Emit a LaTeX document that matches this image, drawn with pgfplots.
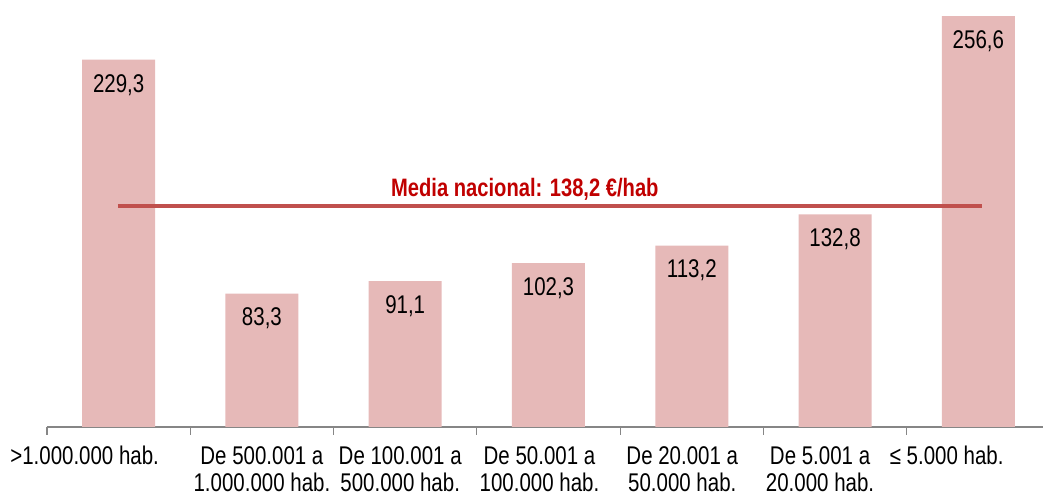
\documentclass[border=0pt]{standalone}
\usepackage{fontspec}
\setmainfont{Liberation Sans}[FakeStretch=0.8]
\usepackage{pgfplots}
\usepackage{pgfplotstable}
\pgfplotsset{compat=1.18}
\definecolor{barpink}{RGB}{230,185,184}
\definecolor{meanred}{RGB}{192,80,77}
\definecolor{labred}{RGB}{192,0,0}
\definecolor{axgray}{RGB}{134,134,134}
\pgfplotstableread{
x y label
0 229.3 229,3
1 83.3 83,3
2 91.1 91,1
3 102.3 102,3
4 113.2 113,2
5 132.8 132,8
6 256.6 256,6
}\datatable
\begin{document}
\fontsize{12.8}{13.5}\selectfont
\begin{tikzpicture}
\begin{axis}[
  scale only axis,
  width=501.5pt, height=213.5pt,
  xmin=-0.5, xmax=6.5, ymin=0, ymax=266.6,
  axis x line*=bottom, axis y line=none,
  axis line style={axgray, line width=0.6pt},
  xtick={0,...,6},
  major tick length=0pt,
  minor xtick={-0.5,0.5,...,5.5},
  minor tick length=4pt,
  tick align=outside,
  minor tick style={axgray, line width=0.6pt},
  xticklabels={
    {>1.000.000 hab.\hspace*{34pt}},
    {De 500.001 a\\1.000.000 hab.},
    {De 100.001 a\hspace*{5pt}\\500.000 hab.\hspace*{5pt}},
    {De 50.001 a\hspace*{9pt}\\100.000 hab.\hspace*{9pt}},
    {De 20.001 a\hspace*{9.5pt}\\50.000 hab.\hspace*{9.5pt}},
    {De 5.001 a\hspace*{15pt}\\20.000 hab.\hspace*{15pt}},
    {≤ 5.000 hab.\hspace*{31.7pt}}},
  xticklabel style={anchor=north, align=center, inner sep=0pt, yshift=-9.5pt, font=\fontsize{12.8}{13.5}\selectfont},
  ybar, bar width=36.5pt,
  nodes near coords,
  point meta=explicit symbolic,
  every node near coord/.append style={anchor=north, inner sep=0pt, yshift=-7pt, font=\fontsize{12.8}{13.5}\selectfont, text=black},
]
\addplot[fill=barpink, draw=none] table[x=x, y=y, meta=label] {\datatable};
\addplot[sharp plot, meanred, line width=2pt, nodes near coords={}, forget plot] coordinates {(-0.005,138.2) (6.025,138.2)};
\node[anchor=base, text=labred, font=\bfseries\fontsize{12.6}{15}\selectfont, inner sep=0pt] at (axis cs:2.835,143.8) {Media nacional: 138,2 €/hab};
\end{axis}
\pgfresetboundingbox
\useasboundingbox (-23.5pt,-34.5pt) rectangle (498pt,213.5pt);
\end{tikzpicture}
\end{document}
